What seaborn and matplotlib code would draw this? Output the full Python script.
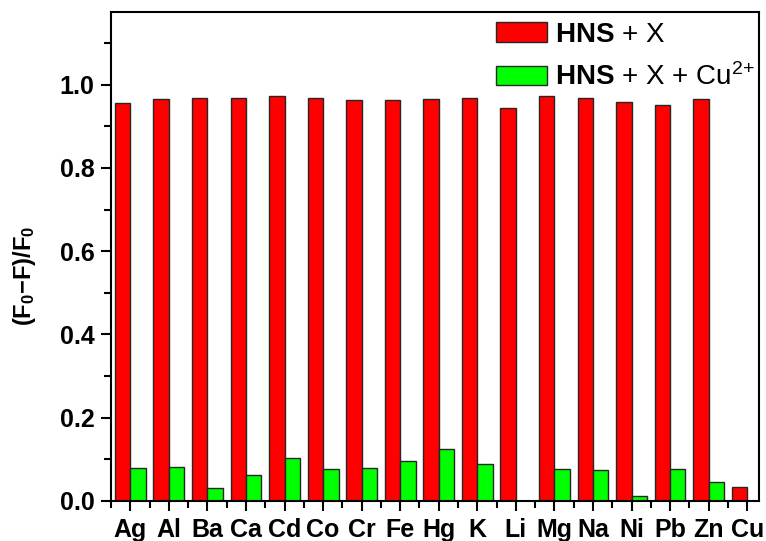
import numpy as np
import pandas as pd
import matplotlib
matplotlib.use("Agg")
import matplotlib.pyplot as plt
from matplotlib.ticker import MultipleLocator, FixedLocator
import seaborn as sns

# Metal ions tested
ions = ["Ag", "Al", "Ba", "Ca", "Cd", "Co", "Cr", "Fe", "Hg", "K",
        "Li", "Mg", "Na", "Ni", "Pb", "Zn", "Cu"]

# Fluorescence quenching efficiency (F0-F)/F0
hns_x = [0.956, 0.966, 0.969, 0.969, 0.974, 0.969, 0.964, 0.964, 0.966, 0.968,
         0.945, 0.974, 0.968, 0.959, 0.951, 0.966, 0.033]
hns_x_cu = [0.079, 0.081, 0.030, 0.063, 0.104, 0.077, 0.079, 0.097, 0.125, 0.089,
            np.nan, 0.076, 0.074, 0.012, 0.076, 0.045, np.nan]

series_labels = [r"$\mathbf{HNS}$ + X", r"$\mathbf{HNS}$ + X + Cu$^{2\!+}$"]
bar_colors = ["#ff0000", "#00ff00"]

df = pd.DataFrame({
    "ion": ions * 2,
    "value": hns_x + hns_x_cu,
    "series": [series_labels[0]] * len(ions) + [series_labels[1]] * len(ions),
})

sns.set_style("ticks")
plt.rcParams["font.family"] = ["Liberation Sans", "DejaVu Sans"]
plt.rcParams["mathtext.fontset"] = "custom"
plt.rcParams["mathtext.rm"] = "Liberation Sans"
plt.rcParams["mathtext.it"] = "Liberation Sans:italic"
plt.rcParams["mathtext.bf"] = "Liberation Sans:bold"
for key in ["text.color", "axes.labelcolor", "xtick.color", "ytick.color"]:
    plt.rcParams[key] = "black"

fig = plt.figure(figsize=(7.66, 5.41), dpi=100)
ax = fig.add_axes([0.145, 0.074, 0.846, 0.904])

sns.barplot(data=df, x="ion", y="value", hue="series", order=ions,
            hue_order=series_labels, palette=bar_colors, saturation=1,
            width=0.8, edgecolor="#262626", linewidth=1.0, errorbar=None, ax=ax)

ax.set_xlim(-0.5, 16.31)
ax.set_ylim(0, 1.175)
ax.set_xlabel("")
ax.set_ylabel(r"$\mathbf{(F_0{-}F)/F_0}$", fontsize=17)
ax.yaxis.set_label_coords(-0.112, 0.46)

ax.yaxis.set_major_locator(FixedLocator([0, 0.2, 0.4, 0.6, 0.8, 1.0]))
ax.yaxis.set_minor_locator(MultipleLocator(0.1))
ax.set_yticklabels([f"{v:.1f}" for v in [0, 0.2, 0.4, 0.6, 0.8, 1.0]])
ax.xaxis.set_minor_locator(FixedLocator(np.arange(-0.5, 17, 1.0)))

ax.tick_params(axis="both", which="major", direction="out", length=7,
               width=1.5, labelsize=18, color="black", labelcolor="black", pad=5)
ax.tick_params(axis="both", which="minor", direction="out", length=5,
               width=1.5, color="black")
ax.tick_params(axis="x", which="major", pad=5)
for lab in ax.get_xticklabels() + ax.get_yticklabels():
    lab.set_fontweight("bold")

for side in ["left", "right", "top", "bottom"]:
    ax.spines[side].set_visible(True)
    ax.spines[side].set_linewidth(1.5)
    ax.spines[side].set_color("black")

ax.legend(loc="upper right", frameon=False, fontsize=20,
          handlelength=1.83, handleheight=0.72, handletextpad=0.3,
          labelspacing=0.55, borderaxespad=0.0, bbox_to_anchor=(1.011, 1.002))

fig.savefig("out.png", dpi=100)
